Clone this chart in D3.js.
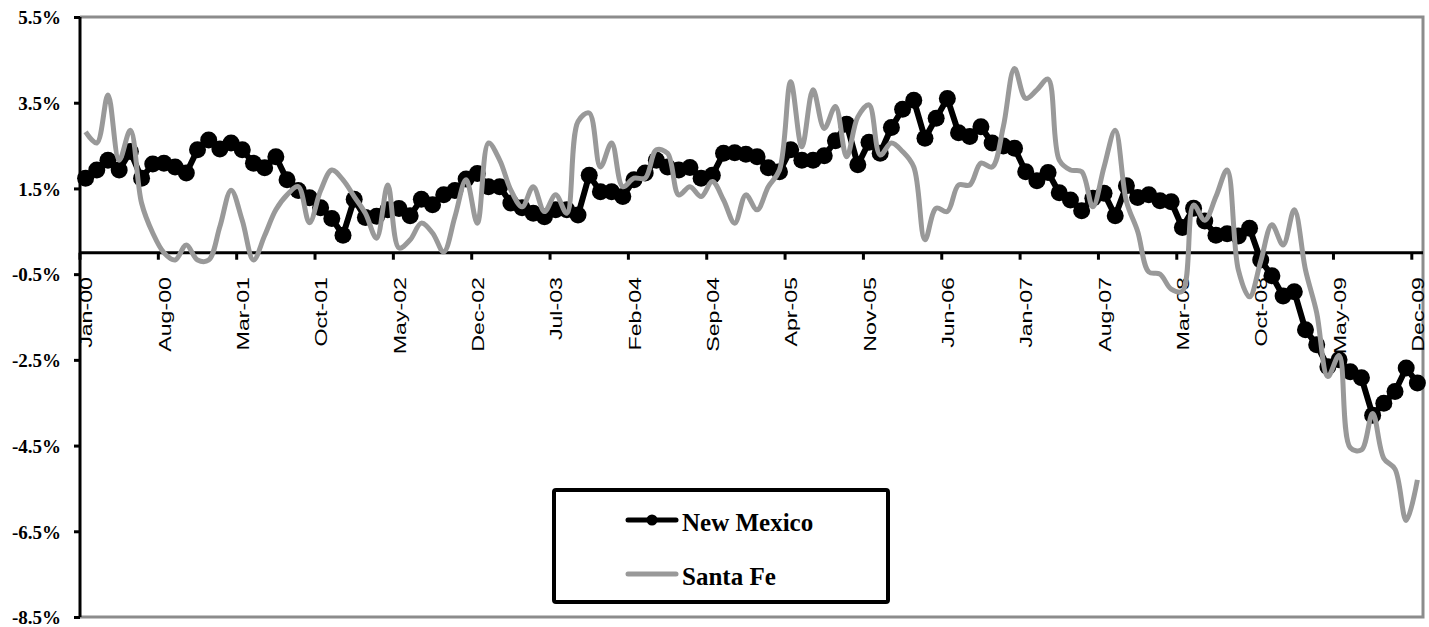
<html>
<head>
<script src="https://d3js.org/d3.v7.min.js"></script>
<style>
    body { margin: 0; background: #fff; }
    .ylab { font-family: "Liberation Serif", "Times New Roman", serif; font-weight: bold; font-size: 19px; }
    .xlab { font-family: "Liberation Sans", Arial, sans-serif; font-size: 16px; }
    .leg { font-family: "Liberation Serif", "Times New Roman", serif; font-weight: bold; font-size: 25px; }
</style>
</head>
<body>
<svg id="chart" width="1429" height="627"></svg>
<script>
    // monthly values, Jan-00 .. Dec-09 (percent)
    const newMexico = [
        1.74, 1.93, 2.16, 1.93, 2.36, 1.74, 2.07, 2.09, 2.00, 1.86, 2.40, 2.63,
        2.42, 2.56, 2.40, 2.09, 1.98, 2.24, 1.70, 1.45, 1.28, 1.05, 0.80, 0.41,
        1.25, 0.82, 0.85, 1.00, 1.03, 0.86, 1.25, 1.12, 1.35, 1.45, 1.72, 1.85,
        1.54, 1.54, 1.16, 1.05, 0.92, 0.84, 1.00, 1.00, 0.88, 1.81, 1.42, 1.42,
        1.31, 1.70, 1.86, 2.16, 2.00, 1.93, 1.99, 1.74, 1.81, 2.32, 2.33, 2.30,
        2.24, 1.98, 1.89, 2.40, 2.16, 2.16, 2.26, 2.61, 3.00, 2.05, 2.58, 2.32,
        2.92, 3.35, 3.56, 2.67, 3.14, 3.60, 2.80, 2.71, 2.94, 2.56, 2.49, 2.44,
        1.89, 1.68, 1.87, 1.40, 1.23, 0.98, 1.27, 1.39, 0.86, 1.56, 1.29, 1.35,
        1.21, 1.19, 0.59, 1.04, 0.74, 0.41, 0.44, 0.39, 0.57, -0.17, -0.54, -1.01,
        -0.91, -1.80, -2.15, -2.66, -2.50, -2.78, -2.92, -3.79, -3.51, -3.24, -2.69, -3.04
    ];
    const santaFe = [
        2.82, 2.56, 3.68, 2.16, 2.86, 1.16, 0.46, 0.00, -0.17, 0.18, -0.17, -0.17,
        0.61, 1.46, 0.75, -0.17, 0.40, 1.00, 1.35, 1.54, 0.70, 1.45, 1.93, 1.70,
        1.31, 0.92, 0.34, 1.58, 0.11, 0.30, 0.69, 0.46, 0.02, 0.84, 1.70, 0.69,
        2.56, 2.16, 1.46, 1.07, 1.54, 0.96, 1.35, 0.92, 3.06, 3.26, 2.00, 2.56,
        1.54, 1.74, 1.74, 2.40, 2.32, 1.35, 1.54, 1.31, 1.66, 1.23, 0.69, 1.35,
        1.00, 1.54, 1.93, 3.99, 2.47, 3.80, 2.90, 3.41, 2.24, 3.17, 3.45, 2.28,
        2.56, 2.36, 2.00, 0.30, 1.04, 0.96, 1.58, 1.58, 2.09, 2.00, 2.94, 4.30,
        3.60, 3.80, 4.05, 2.16, 1.93, 1.89, 1.07, 2.00, 2.86, 1.20, 0.50, -0.45,
        -0.50, -0.85, -0.90, 1.11, 0.76, 1.31, 1.93, -0.40, -1.03, -0.20, 0.65, 0.18,
        1.00, -0.40, -1.40, -2.89, -2.40, -4.55, -4.60, -3.75, -4.80, -5.05, -6.25, -5.30
    ];
    const tickLabels = ["Jan-00", "Aug-00", "Mar-01", "Oct-01", "May-02", "Dec-02", "Jul-03", "Feb-04", "Sep-04",
        "Apr-05", "Nov-05", "Jun-06", "Jan-07", "Aug-07", "Mar-08", "Oct-08", "May-09", "Dec-09"];
    const yTicks = [5.5, 3.5, 1.5, -0.5, -2.5, -4.5, -6.5, -8.5];
    const seriesNames = ["New Mexico", "Santa Fe"];

    const fmt = d3.timeFormat("%b-%y");
    const months = d3.timeMonth.range(new Date(2000, 0, 1), new Date(2010, 0, 1)).map(fmt);

    const svg = d3.select("#chart");
    const pLeft = 80, pRight = 1423, pTop = 17, pBottom = 617;

    const x = d3.scaleBand().domain(months).range([pLeft, pRight]);
    const y = d3.scaleLinear().domain([-8.5, 5.5]).range([pBottom, pTop]);
    const cx = d => x(d) + x.bandwidth() / 2;

    // plot frame
    svg.append("path")
        .attr("d", `M${pLeft},${pTop}H${pRight}V${pBottom}H${pLeft}`)
        .attr("fill", "none").attr("stroke", "#8c8c8c").attr("stroke-width", 3);

    // y axis
    const yAxis = svg.append("g").attr("transform", `translate(${pLeft},0)`)
        .call(d3.axisLeft(y).tickValues(yTicks).tickSize(6).tickFormat(d => d.toFixed(1) + "%"));
    yAxis.select(".domain").attr("stroke", "#000").attr("stroke-width", 3).attr("d", `M0,${pTop}V${pBottom}`);
    yAxis.selectAll(".tick line").attr("stroke", "#000").attr("stroke-width", 3);
    yAxis.selectAll(".tick text").attr("class", "ylab").attr("fill", "#000").attr("x", -19).attr("dy", "0.36em");

    // category axis on the zero line
    const y0 = y(0);
    svg.append("line").attr("x1", pLeft).attr("x2", pRight).attr("y1", y0).attr("y2", y0)
        .attr("stroke", "#000").attr("stroke-width", 3);
    const tickIdx = d3.range(0, months.length, 7);
    svg.selectAll("line.xt").data(tickIdx).join("line").attr("class", "xt")
        .attr("x1", i => x(months[i])).attr("x2", i => x(months[i]))
        .attr("y1", y0).attr("y2", y0 + 7)
        .attr("stroke", "#000").attr("stroke-width", 3);
    svg.selectAll("text.xlab").data(tickIdx).join("text").attr("class", "xlab")
        .attr("transform", i => `translate(${cx(months[i]) + 1},277) rotate(-90) scale(1.45,1)`)
        .attr("text-anchor", "end").attr("dy", "0.36em")
        .text((i, k) => tickLabels[k]);

    // New Mexico
    const line = d3.line().x((d, i) => cx(months[i])).y(d => y(d));
    svg.append("path").datum(newMexico).attr("d", line)
        .attr("fill", "none").attr("stroke", "#000").attr("stroke-width", 6).attr("stroke-linejoin", "round");
    svg.selectAll("circle.nm").data(newMexico).join("circle").attr("class", "nm")
        .attr("cx", (d, i) => cx(months[i])).attr("cy", d => y(d)).attr("r", 8.5).attr("fill", "#000");

    // Santa Fe (smoothed)
    const smooth = d3.line().curve(d3.curveCatmullRom.alpha(0.5)).x((d, i) => cx(months[i])).y(d => y(d));
    svg.append("path").datum(santaFe).attr("d", smooth)
        .attr("fill", "none").attr("stroke", "#999999").attr("stroke-width", 5).attr("stroke-linejoin", "round");

    // legend
    const lg = svg.append("g");
    lg.append("rect").attr("x", 554).attr("y", 490).attr("width", 334).attr("height", 112).attr("rx", 2)
        .attr("fill", "#fff").attr("stroke", "#000").attr("stroke-width", 4);
    lg.append("line").attr("x1", 628).attr("x2", 676).attr("y1", 520).attr("y2", 520)
        .attr("stroke", "#000").attr("stroke-width", 5).attr("stroke-linecap", "round");
    lg.append("circle").attr("cx", 652).attr("cy", 520).attr("r", 5.5).attr("fill", "#000");
    lg.append("line").attr("x1", 628).attr("x2", 676).attr("y1", 574).attr("y2", 574)
        .attr("stroke", "#999999").attr("stroke-width", 5).attr("stroke-linecap", "round");
    lg.selectAll("text").data(seriesNames).join("text").attr("class", "leg")
        .attr("x", 682).attr("y", (d, i) => 531 + i * 54).text(d => d);
</script>
</body>
</html>
